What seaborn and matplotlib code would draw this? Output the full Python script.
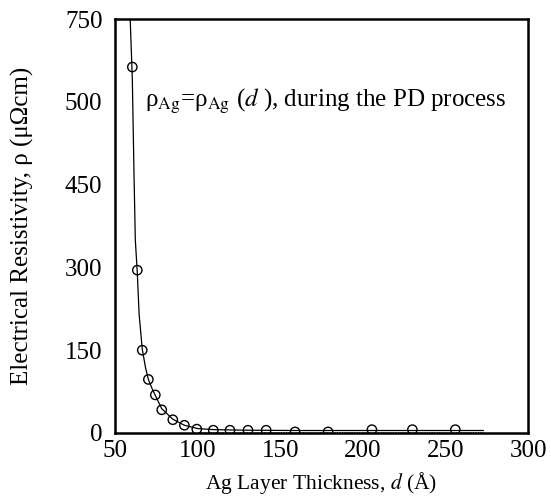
import matplotlib
matplotlib.use("Agg")
import matplotlib.pyplot as plt
import seaborn as sns
import pandas as pd

# measured points
d_pts = [60.5, 63.5, 66.5, 70.2, 74.4, 78.3, 85.0, 92.0, 99.5, 109.5, 119.6, 130.5, 141.5, 159.0, 179.0, 205.5, 230.0, 256.0]
rho_pts = [663, 295, 150, 97, 69, 42, 24, 14, 7, 5, 5, 5, 5, 2, 2, 6, 6, 6]

# fitted curve
d_fit = [59.2, 60.5, 61.5, 62.3, 63.5, 64.6, 66.5, 68.5, 70.2, 72.5, 74.4, 78.3, 85.0, 92.0, 100.0, 110.0, 130.0, 160.0, 200.0, 240.0, 273.0]
rho_fit = [750, 640, 470, 350, 290, 215, 152, 118, 97, 80, 68, 44, 25, 14, 8, 6, 5, 4.5, 4.5, 4.5, 4.5]

# lower dotted trace
d_dot = [100, 273]
rho_dot = [1, 1]

y_ticks = [0, 150, 300, 450, 600, 750]
y_labels = ["0", "150", "300", "450", "500", "750"]
x_ticks = [50, 100, 150, 200, 250, 300]
x_labels = ["50", "100", "150", "200", "250", "300"]

sns.set_theme(style="white")
plt.rcParams["font.family"] = ["Liberation Serif", "DejaVu Serif"]
plt.rcParams["mathtext.fontset"] = "stix"

fig = plt.figure(figsize=(5.51, 4.99), dpi=100)
ax = fig.add_axes([0.2087, 0.1323, 0.7496, 0.8296])

pts = pd.DataFrame({"d": d_pts, "rho": rho_pts})
fit = pd.DataFrame({"d": d_fit, "rho": rho_fit})
dot = pd.DataFrame({"d": d_dot, "rho": rho_dot})

sns.lineplot(data=fit, x="d", y="rho", ax=ax, color="black", linewidth=0.9, sort=False)
sns.lineplot(data=dot, x="d", y="rho", ax=ax, color="black", linewidth=0.7, linestyle=(0, (1, 1.5)))
sns.scatterplot(data=pts, x="d", y="rho", ax=ax, marker="o", s=45,
                facecolor="none", edgecolor="black", linewidth=1.0, zorder=3)

ax.set_xlim(50, 300)
ax.set_ylim(0, 750)
ax.set_xticks(x_ticks)
ax.set_xticklabels(x_labels)
ax.set_yticks(y_ticks)
ax.set_yticklabels(y_labels)
ax.tick_params(axis="both", direction="in", length=9, width=1.0, labelsize=18,
               color="black", labelcolor="black")
ax.tick_params(axis="y", pad=9)
ax.tick_params(axis="x", pad=5)
for s in ax.spines.values():
    s.set_visible(True)
    s.set_color("black")
    s.set_linewidth(1.8)

ax.set_xlabel(r"Ag Layer Thickness, $d$ (Å)", fontsize=15.5, color="black", labelpad=6)
ax.set_ylabel("Electrical Resistivity, ρ (μΩcm)", fontsize=18, color="black", labelpad=22)

ax.text(68.0, 600, r"ρ$_{\mathrm{Ag}}$=ρ$_{\mathrm{Ag}}$ ($d$ ), during the PD process",
        fontsize=18, color="black", va="center", ha="left")

fig.savefig("out.png", dpi=100)
